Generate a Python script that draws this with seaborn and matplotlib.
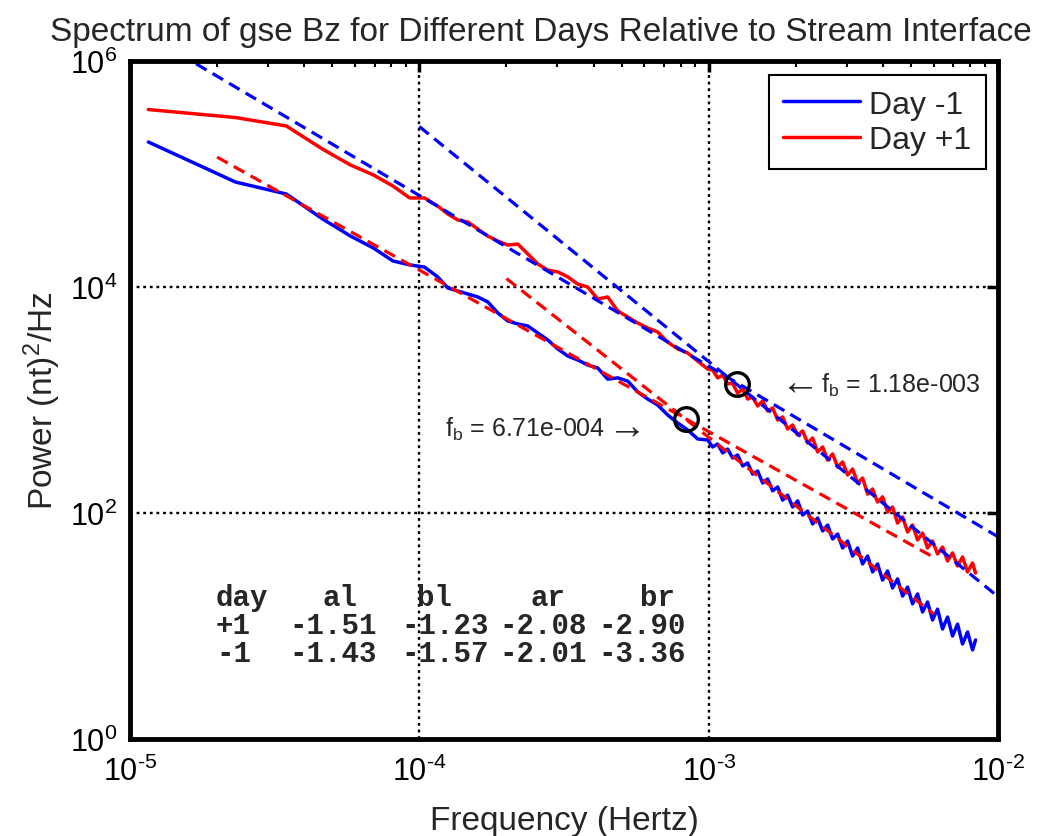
import numpy as np
import pandas as pd
import matplotlib
matplotlib.use("Agg")
import matplotlib.pyplot as plt
import seaborn as sns
from matplotlib.ticker import FixedLocator, FuncFormatter, NullLocator, LogLocator
from matplotlib.lines import Line2D

# ---------------- data ----------------
freq_hz = [
    1.157e-5, 2.315e-5, 3.472e-5, 4.630e-5, 5.787e-5, 6.944e-5, 8.102e-5, 9.259e-5, 1.042e-4, 1.157e-4,
    1.254e-4, 1.358e-4, 1.471e-4, 1.593e-4, 1.725e-4, 1.868e-4, 2.022e-4, 2.189e-4, 2.371e-4, 2.567e-4,
    2.779e-4, 3.010e-4, 3.258e-4, 3.528e-4, 3.820e-4, 4.136e-4, 4.478e-4, 4.849e-4, 5.250e-4, 5.684e-4,
    6.155e-4, 6.664e-4, 7.216e-4, 7.813e-4, 8.461e-4, 9.162e-4, 9.920e-4,
    1.032e-3, 1.074e-3, 1.118e-3, 1.163e-3, 1.210e-3, 1.259e-3, 1.311e-3, 1.364e-3, 1.419e-3, 1.477e-3,
    1.537e-3, 1.599e-3, 1.664e-3, 1.732e-3, 1.802e-3, 1.875e-3, 1.951e-3, 2.030e-3, 2.113e-3, 2.198e-3,
    2.287e-3, 2.380e-3, 2.477e-3, 2.577e-3, 2.682e-3, 2.790e-3, 2.904e-3, 3.021e-3, 3.144e-3, 3.271e-3,
    3.404e-3, 3.542e-3, 3.686e-3, 3.835e-3, 3.991e-3, 4.153e-3, 4.321e-3, 4.496e-3, 4.679e-3, 4.869e-3,
    5.066e-3, 5.272e-3, 5.486e-3, 5.708e-3, 5.940e-3, 6.181e-3, 6.432e-3, 6.693e-3, 6.964e-3, 7.247e-3,
    7.541e-3, 7.847e-3, 8.166e-3, 8.363e-3,
]

power_day_plus1 = [
    3.72e5, 3.16e5, 2.66e5, 1.66e5, 1.20e5, 9.80e4, 7.83e4, 6.14e4, 6.14e4, 5.21e4,
    4.43e4, 3.92e4, 3.76e4, 3.26e4, 2.82e4, 2.55e4, 2.35e4, 2.40e4, 1.96e4, 1.60e4,
    1.41e4, 1.36e4, 1.23e4, 1.06e4, 1.00e4, 7.83e3, 8.16e3, 6.14e3, 5.43e3, 4.80e3,
    4.34e3, 4.00e3, 3.26e3, 2.83e3, 2.61e3, 2.21e3, 1.88e3,
    1.84e3, 1.57e3, 1.66e3, 1.39e3, 1.41e3, 1.15e3, 1.25e3, 1.02e3, 1.06e3, 885,
    980, 800, 849, 665, 708, 554, 601, 490, 532, 416,
    461, 347, 384, 294, 333, 255, 283, 217, 245, 184,
    204, 147, 163, 125, 139, 102, 113, 81.5, 92.2, 67.9,
    78.3, 57.7, 66.5, 49.0, 56.5, 43.4, 50.0, 37.6, 44.3, 34.0,
    40.8, 30.1, 36.1, 29.4,
]

power_day_minus1 = [
    1.92e5, 8.49e4, 6.65e4, 4.00e4, 2.82e4, 2.21e4, 1.70e4, 1.57e4, 1.50e4, 1.23e4,
    9.80e3, 9.22e3, 8.67e3, 8.16e3, 7.37e3, 5.89e3, 5.00e3, 4.71e3, 4.52e3, 3.92e3,
    3.40e3, 2.83e3, 2.45e3, 2.26e3, 2.04e3, 1.92e3, 1.53e3, 1.57e3, 1.47e3, 1.18e3,
    1.02e3, 903, 737, 626, 543, 452, 443,
    384, 408, 340, 368, 307, 326, 261, 277, 221, 235,
    184, 200, 157, 170, 130, 144, 113, 128, 96.0, 104,
    80.0, 90.3, 69.3, 78.3, 58.9, 65.2, 49.0, 56.5, 41.6, 49.0,
    35.4, 41.6, 30.1, 35.4, 25.5, 30.7, 21.7, 26.1, 18.4, 22.1,
    15.7, 19.2, 13.3, 16.3, 11.3, 14.1, 9.41, 12.0, 8.16, 10.4,
    6.93, 8.85, 6.14, 7.52,
]

series_labels = ["Day -1", "Day +1"]

# power-law fits: log10(P) = a*log10(f) + b
fit_day = ["+1", "-1"]
fit_al = [-1.51, -1.43]
fit_bl = [-1.23, -1.57]
fit_ar = [-2.08, -2.01]
fit_br = [-2.90, -3.36]
fit_left_range = [(1e-5, 1e-2), (2e-5, 6e-3)]
fit_right_range = [(1e-4, 1e-2), (2e-4, 6e-3)]

break_freq = [1.25e-3, 8.33e-4]
break_power = [1.39e3, 6.79e2]
break_labels = ["1.18e-003", "6.71e-004"]

x_ticks = [1e-5, 1e-4, 1e-3, 1e-2]
y_ticks = [1e0, 1e2, 1e4, 1e6]

# ---------------- style ----------------
sns.set_style("white")
plt.rcParams['font.family'] = ['Liberation Sans', 'DejaVu Sans']
plt.rcParams['mathtext.fontset'] = 'custom'
plt.rcParams['mathtext.rm'] = 'Liberation Sans'
plt.rcParams['mathtext.it'] = 'Liberation Sans:italic'
plt.rcParams['mathtext.default'] = 'regular'

BLUE = '#0000ff'
RED = '#ff0000'
fit_colors = [BLUE, RED]

W, H = 1046, 837
fig = plt.figure(figsize=(W / 100, H / 100), dpi=100)
ax = fig.add_axes([130 / W, (H - 740) / H, 868 / W, 678 / H])

n = len(freq_hz)
df = pd.DataFrame({
    'freq': freq_hz + freq_hz,
    'power': power_day_minus1 + power_day_plus1,
    'day': [series_labels[0]] * n + [series_labels[1]] * n,
})
sns.lineplot(data=df, x='freq', y='power', hue='day', hue_order=series_labels,
             palette={series_labels[0]: BLUE, series_labels[1]: RED},
             estimator=None, sort=False, linewidth=2.5, legend=False, ax=ax, zorder=3)

ax.set_xscale('log')
ax.set_yscale('log')
ax.set_xlim(1e-5, 1e-2)
ax.set_ylim(1e0, 1e6)

# fitted dashed lines
for i in range(2):
    for rng, a, b in ((fit_left_range[i], fit_al[i], fit_bl[i]),
                      (fit_right_range[i], fit_ar[i], fit_br[i])):
        fx = np.array(rng)
        fy = 10 ** b * fx ** a
        ax.plot(fx, fy, color=fit_colors[i], lw=2.3, linestyle=(0, (3.8, 2.2)), zorder=4)

# break-frequency circles
ax.plot(break_freq, break_power, 'o', mfc='none', mec='k', ms=17, mew=2.4, zorder=5)

def axfrac(px, py):
    return (px - 130) / 868, (740 - py) / 678

ann = dict(transform=ax.transAxes, fontsize=18, ha='left', va='baseline', zorder=6)
arr = dict(transform=ax.transAxes, fontsize=28, ha='left', va='center', zorder=6,
           math_fontfamily='dejavusans')
ax.text(*axfrac(773, 383), r"$\leftarrow$", **arr)
ax.text(*axfrac(821, 393), r"f$_{b}$ = " + break_labels[0], **ann)
ax.text(*axfrac(445, 437), r"f$_{b}$ = " + break_labels[1], **ann)
ax.text(*axfrac(600, 427), r"$\rightarrow$", **arr)

# table of fit parameters
mono = dict(family=['Liberation Mono', 'DejaVu Sans Mono'], fontweight='bold', fontsize=21,
            transform=ax.transAxes, ha='left', va='baseline', zorder=6)
head_x = [216, 322, 417, 531, 640]
val_x = [216, 289, 401, 499, 598]
row_y = [606, 634, 662]
for hx, h in zip(head_x, ["day", "al", "bl", "ar", "br"]):
    ax.text(*axfrac(hx, row_y[0]), h, **mono)
for r in range(2):
    vals = [fit_day[r], "%.2f" % fit_al[r], "%.2f" % fit_bl[r], "%.2f" % fit_ar[r], "%.2f" % fit_br[r]]
    for vx, v in zip(val_x, vals):
        ax.text(*axfrac(vx, row_y[r + 1]), v, **mono)


def pow10_label(v, pos):
    e = int(round(np.log10(v)))
    s = str(e).replace('-', '\u2010')
    return "10$^{%s}$" % s


# axes styling
ax.xaxis.set_major_locator(FixedLocator(x_ticks))
ax.xaxis.set_major_formatter(FuncFormatter(pow10_label))
ax.xaxis.set_minor_locator(LogLocator(base=10, subs=np.arange(2, 10), numticks=20))
ax.yaxis.set_major_locator(FixedLocator(y_ticks))
ax.yaxis.set_major_formatter(FuncFormatter(pow10_label))
ax.yaxis.set_minor_locator(NullLocator())

ax.tick_params(which='major', direction='in', length=8, width=2.5, top=True, right=True,
               labelsize=22, colors='k')
ax.tick_params(axis='x', which='major', pad=12)
ax.tick_params(axis='y', which='major', pad=9)
ax.tick_params(which='minor', direction='in', length=4, width=1.5, top=True, right=True, colors='k')
ax.grid(True, which='major', color='k', linestyle=(0, (1.2, 1.6)), lw=1.7)
for s in ax.spines.values():
    s.set_linewidth(3.5)
    s.set_color('k')
    s.set_zorder(7)

ax.set_xlabel('Frequency (Hertz)', fontsize=24)
ax.xaxis.set_label_coords(0.5, (740 - 806) / 678)
ax.set_ylabel('Power (nt)$^{2}$/Hz', fontsize=24)
ax.yaxis.set_label_coords((63 - 130) / 868, 0.5)

fig.text(541 / W, 1 - 41 / H, 'Spectrum of gse Bz for Different Days Relative to Stream Interface',
         ha='center', va='baseline', fontsize=24)

handles = [Line2D([], [], color=BLUE, lw=2.5), Line2D([], [], color=RED, lw=2.5)]
leg = ax.legend(handles, series_labels, loc='upper right', bbox_to_anchor=(0.986, 0.979),
                fontsize=23, frameon=True, fancybox=False, edgecolor='k', framealpha=1,
                borderaxespad=0, handlelength=2.4, handletextpad=0.3, labelspacing=0.17,
                borderpad=0.45)
leg.get_frame().set_linewidth(1.5)
leg.set_zorder(8)

fig.savefig('out.png', dpi=100)
